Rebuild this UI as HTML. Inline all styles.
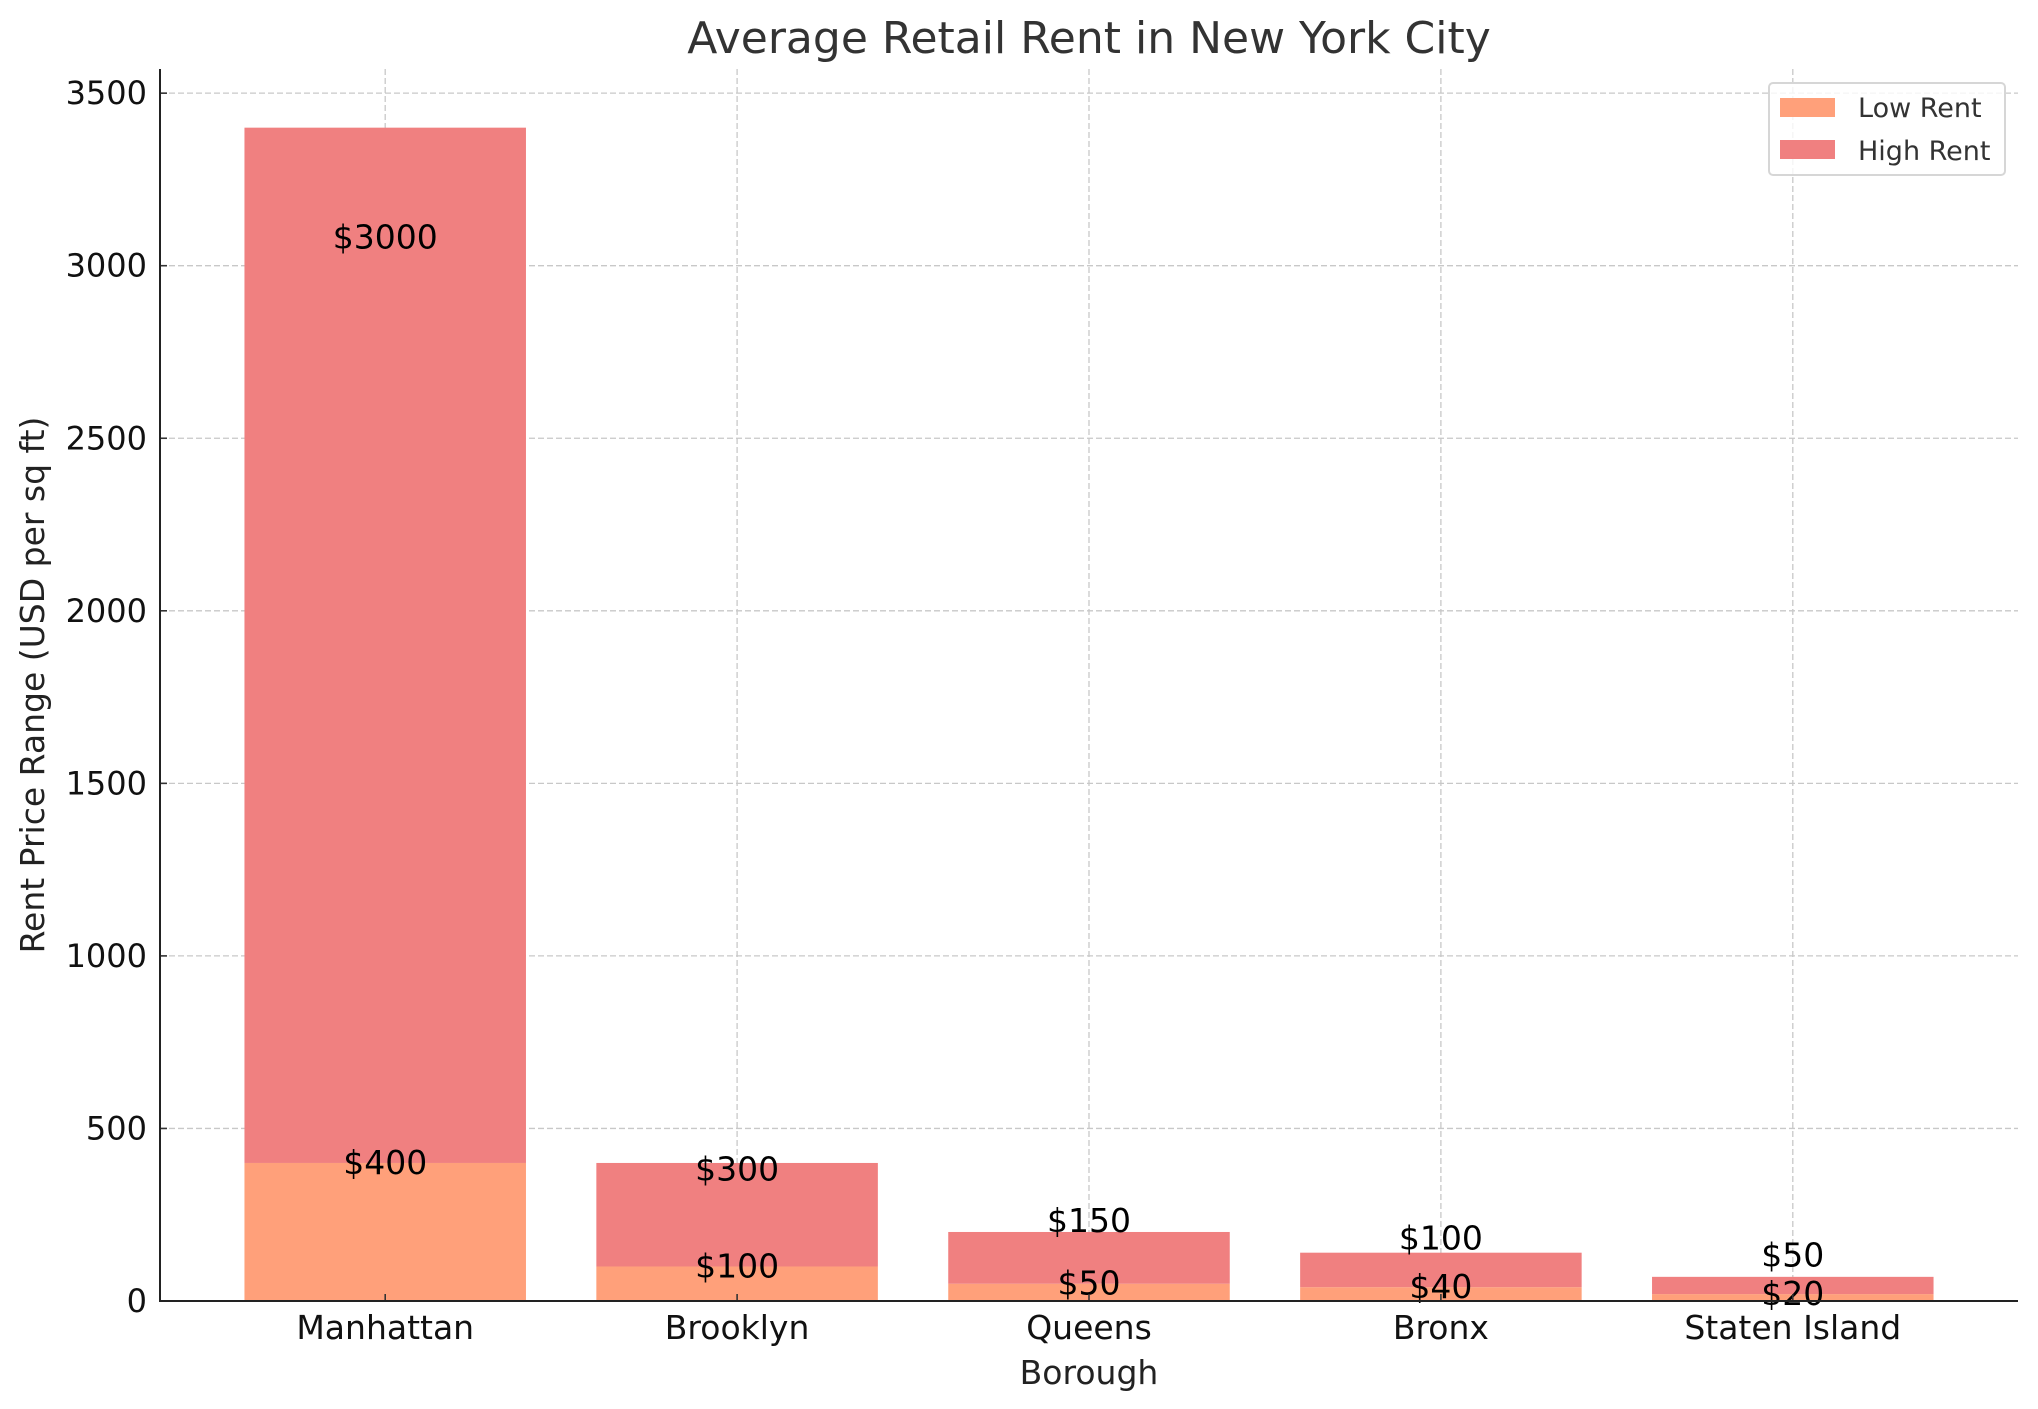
<!DOCTYPE html>
<html><head><meta charset="utf-8"><style>
html,body{margin:0;padding:0;background:#fff;}
svg{display:block;font-family:"DejaVu Sans","Liberation Sans",sans-serif;}
</style></head><body>
<svg id="chart" width="2038" height="1409" viewBox="0 0 2038 1409" xmlns="http://www.w3.org/2000/svg">
<rect width="2038" height="1409" fill="#fff"/>
<text x="1089" y="53" text-anchor="middle" font-size="44" fill="#333">Average Retail Rent in New York City</text>
<g id="grid"></g><g id="bars"></g><g id="labels"></g><g id="axes"></g>
<text x="1089" y="1384" text-anchor="middle" font-size="33" fill="#222">Borough</text>
<text transform="translate(44,685) rotate(-90)" text-anchor="middle" font-size="33" fill="#222">Rent Price Range (USD per sq ft)</text>
<g>
<rect x="1769" y="83" width="236" height="92" rx="4" fill="#fff" fill-opacity="0.8" stroke="#d6d6d6" stroke-width="2"/>
<rect x="1780" y="98" width="55" height="19" fill="#FFA07A"/>
<text x="1858" y="117" font-size="27" fill="#333">Low Rent</text>
<rect x="1780" y="140" width="55" height="19" fill="#F08080"/>
<text x="1858" y="160" font-size="27" fill="#333">High Rent</text>
</g>
</svg>
<script>
const categories = ["Manhattan","Brooklyn","Queens","Bronx","Staten Island"];
const lowRent = [400,100,50,40,20];
const highRent = [3000,300,150,100,50];
const yTicks = [0,500,1000,1500,2000,2500,3000,3500];

const L=160,R=2018,T=69,B=1301;
const yMax=Math.max(...lowRent.map((v,i)=>v+highRent[i]))*1.05;
const xMin=-0.64,xMax=categories.length-1+0.64;
const xs=i=>L+(i-xMin)/(xMax-xMin)*(R-L);
const ys=v=>B-v/yMax*(B-T);
const bw=0.8*(R-L)/(xMax-xMin);
const NS="http://www.w3.org/2000/svg";
function mk(tag,attrs,parent,txt){const e=document.createElementNS(NS,tag);for(const k in attrs)e.setAttribute(k,attrs[k]);if(txt!==undefined)e.textContent=txt;parent.appendChild(e);return e;}
const grid=document.getElementById('grid'),bars=document.getElementById('bars'),labels=document.getElementById('labels'),axes=document.getElementById('axes');

yTicks.forEach(v=>{
  const y=ys(v);
  const g=mk('line',{x1:L,x2:R,y1:y,y2:y,stroke:'#c8c8c8','stroke-width':1.3,'stroke-dasharray':'6,3'},grid);
  
  
  const t=mk('line',{x1:L,x2:L+7,y1:y,y2:y,stroke:'#333','stroke-width':1.6},axes);
  
  
  const lb=mk('text',{x:L-13,y:y+11,'text-anchor':'end','font-size':32,fill:'#111'},axes,String(v));
  
  
});
categories.forEach((c,i)=>{
  const x=xs(i);
  const g=mk('line',{x1:x,x2:x,y1:T,y2:B,stroke:'#c8c8c8','stroke-width':1.3,'stroke-dasharray':'6,3'},grid);
  
  
  const lo=mk('rect',{x:x-bw/2,y:ys(lowRent[i]),width:bw,height:B-ys(lowRent[i]),fill:'#FFA07A'},bars);
  
  
  const top=lowRent[i]+highRent[i];
  const hi=mk('rect',{x:x-bw/2,y:ys(top),width:bw,height:ys(lowRent[i])-ys(top),fill:'#F08080'},bars);
  
  
  const l1=mk('text',{x:x,y:ys(lowRent[i])+11,'text-anchor':'middle','font-size':33,fill:'#000'},labels,'$'+lowRent[i]);
  
  
  const l2=mk('text',{x:x,y:ys(highRent[i])-17,'text-anchor':'middle','font-size':33,fill:'#000'},labels,'$'+highRent[i]);
  
  
  const t=mk('line',{x1:x,x2:x,y1:B,y2:B-7,stroke:'#333','stroke-width':1.6},axes);
  
  
  const lb=mk('text',{x:x,y:1339,'text-anchor':'middle','font-size':33,fill:'#111'},axes,c);
  
  
});
const ax=mk('path',{d:`M${L},${T} V${B} H${R}`,fill:'none',stroke:'#222','stroke-width':2},axes);


</script>
</body></html>
